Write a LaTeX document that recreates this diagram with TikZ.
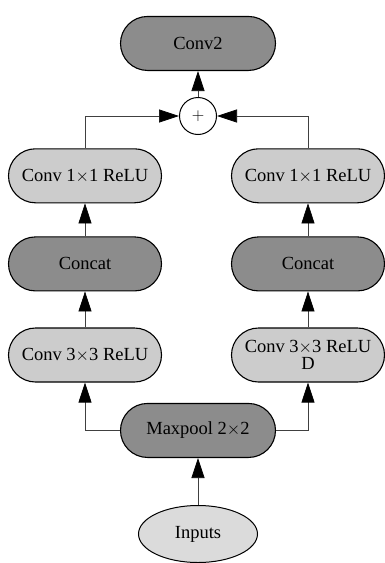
\documentclass[tikz,border=0pt]{standalone}
\usepackage{fontspec}
\setmainfont{Liberation Serif}
\usetikzlibrary{shapes.geometric, arrows.meta, positioning}

\begin{document}
\begin{tikzpicture}[
    x=1pt, y=1pt,
    font=\fontsize{18.5}{19}\selectfont,
    darkbox/.style = {rectangle, draw=black, line width=1.1pt, fill=black!45, rounded corners=27pt, minimum width=155pt, minimum height=54pt, inner sep=2pt},
    lightbox/.style = {rectangle, draw=black, line width=1.1pt, fill=black!20, rounded corners=27pt, minimum width=153pt, minimum height=54pt, inner sep=2pt, align=center},
    sumnode/.style = {circle, draw=black, line width=1pt, fill=white, minimum size=37pt, inner sep=0pt},
    inputnode/.style = {ellipse, draw=black, line width=1pt, fill=black!14, minimum width=119pt, minimum height=57pt},
    line/.style = {draw=black!75, line width=0.7pt, -{Triangle[length=20pt, width=13pt, black]}}
]
\useasboundingbox (0,0) rectangle (385,-563);

% Nodes
\node [inputnode] (inputs) at (198,-534) {Inputs};
\node [darkbox, above=47pt of inputs] (maxpool) {Maxpool 2$\times$2};

% Left branch
\node [lightbox] (conv3l) at (85,-355) {Conv 3$\times$3 ReLU};
\node [darkbox, minimum width=153pt, above=36pt of conv3l] (concatl) {Concat};
\node [lightbox, above=33pt of concatl] (conv1l) {Conv 1$\times$1 ReLU};

% Right branch
\node [lightbox] (conv3r) at (308,-355) {Conv 3$\times$3 ReLU\\[-2pt]D};
\node [darkbox, minimum width=153pt, above=36pt of conv3r] (concatr) {Concat};
\node [lightbox, above=33pt of concatr] (conv1r) {Conv 1$\times$1 ReLU};

% Merge
\node [sumnode] (plus) at (198,-116) {$+$};
\node [darkbox, above=26pt of plus] (conv2) {Conv2};

% Edges
\path [line] (inputs) -- (maxpool);
\path [line] (maxpool.west) -| (conv3l.south);
\path [line] (maxpool.east) -| (conv3r.south);
\path [line] (conv3l) -- (concatl);
\path [line] (conv3r) -- (concatr);
\path [line] (concatl) -- (conv1l);
\path [line] (concatr) -- (conv1r);
\path [line] (conv1l.north) |- (plus.west);
\path [line] (conv1r.north) |- (plus.east);
\path [line] (plus) -- (conv2);

\end{tikzpicture}
\end{document}
